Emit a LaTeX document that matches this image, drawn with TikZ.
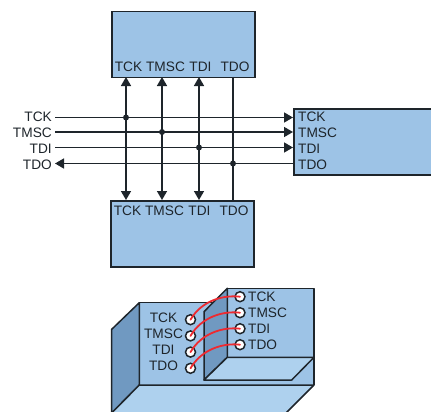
\documentclass[tikz,border=0pt]{standalone}
\usepackage{fontspec}
\setmainfont{Liberation Sans}
\definecolor{boxblue}{HTML}{9DC3E6}
\definecolor{sideblue}{HTML}{7099C1}
\definecolor{floorblue}{HTML}{AED1EE}
\definecolor{linedark}{HTML}{1E252B}
\definecolor{wirered}{HTML}{EE2A30}
\tikzstyle{signal} = [font=\fontsize{13.7}{13.7}\selectfont,text=linedark,inner sep=0pt]
\tikzstyle{chipbox} = [draw=linedark,line width=1.5pt,fill=boxblue,rectangle,anchor=north west,inner sep=0pt]
\tikzstyle{panel} = [draw=linedark,line width=1.5pt,line join=round]
\tikzstyle{bus} = [draw=linedark,line width=1.5pt]
\tikzstyle{arrowdecorate} = [bus,-{Triangle[length=9pt,width=10pt]}]
\tikzstyle{bothdecorate} = [bus,{Triangle[length=9pt,width=10pt]}-{Triangle[length=9pt,width=10pt]}]
\tikzstyle{junction} = [circle,fill=linedark,inner sep=0pt,minimum size=6pt]
\tikzstyle{pin} = [circle,draw=linedark,line width=1.5pt,fill=white,inner sep=0pt,minimum size=10pt]
\tikzstyle{wire} = [draw=wirered,line width=1.8pt,line cap=round]
\usetikzlibrary{arrows.meta}
\begin{document}
\begin{tikzpicture}[x=1pt,y=-1pt]
      \useasboundingbox (0,0) rectangle (431,412);
      %% the three boxes
      \node (upper) at (111,11) [chipbox,minimum width=143pt,minimum height=66pt] {};
      \node (lower) at (110,200) [chipbox,minimum width=143pt,minimum height=66pt] {};
      \node (right) at (293,108) [chipbox,minimum width=140pt,minimum height=66pt] {};

      \foreach \nodename/\text/\x in {TCK/TCK/128.5, TMSC/TMSC/165.5, TDI/TDI/200.5, TDO/TDO/235}
      {
        \node (up\nodename) at (\x,67) [signal] {\text};
        \node (lo\nodename) at (\x-1,211) [signal] {\text};
      }
      \foreach \nodename/\text/\y in {TCK/TCK/117, TMSC/TMSC/133, TDI/TDI/149, TDO/TDO/165}
      {
        \node (ri\nodename) at (298,\y) [signal,anchor=west] {\text};
        \node (le\nodename) at (52,\y-0.5) [signal,anchor=east] {\text};
      }

      %% bus lines
      \foreach \nodename/\x/\y in {a/126/117.5, b/162/132, c/199/147.5, d/233/163.5}
      {
        \coordinate (top\nodename) at (\x,77);
        \coordinate (bot\nodename) at (\x,200);
        \coordinate (in\nodename) at (55,\y);
        \coordinate (out\nodename) at (293,\y);
        \node (dot\nodename) at (\x,\y) [junction] {};
      }
      \foreach \nodename in {a,b,c}
      {
        \draw[arrowdecorate] (in\nodename) -- (out\nodename);
        \draw[bothdecorate] (top\nodename) -- (bot\nodename);
      }
      \draw[arrowdecorate] (outd) -- (ind);
      \draw[bus] (topd) -- (botd);

      %% lower drawing
      \fill[boxblue] (139.3,302.7) -- (227.3,302.7) -- (227.3,288.3) -- (314,288.3) -- (314,385) -- (139.3,385) -- cycle;
      \draw[panel,fill=sideblue] (139.3,302.7) -- (111.7,329.3) -- (111.7,413) -- (139.3,385) -- cycle;
      \draw[panel,fill=floorblue] (139.3,385) -- (314,385) -- (286,413) -- (111.7,413) -- cycle;
      \draw[panel] (139.3,385) -- (139.3,302.7) -- (227.3,302.7);
      \draw[panel,fill=sideblue] (227.3,288.3) -- (204,311.7) -- (204,380) -- (227.3,357.3) -- cycle;
      \draw[panel,fill=floorblue] (204,380) -- (227.3,357.3) -- (314,357.3) -- (291.7,380) -- cycle;
      \draw[panel] (227.3,288.3) -- (314,288.3) -- (314,385);

      \foreach \nodename/\text/\y in {a/TCK/0, b/TMSC/1, c/TDI/2, d/TDO/3}
      {
        \node (lab\nodename) at (163.5,318+16*\y) [signal] {\text};
        \node (tab\nodename) at (248,297+16*\y) [signal,anchor=west] {\text};
        \node (pin\nodename) at (190.5,319.7+16.2*\y) [pin] {};
        \node (pon\nodename) at (240,296.7+16*\y) [pin] {};
      }
      \foreach \nodename in {a,b,c,d}
      {
        \draw[wire] (pin\nodename.center) .. controls +(11,-19) and +(-17,-2) .. (pon\nodename.center);
      }
    \end{tikzpicture}
\end{document}
